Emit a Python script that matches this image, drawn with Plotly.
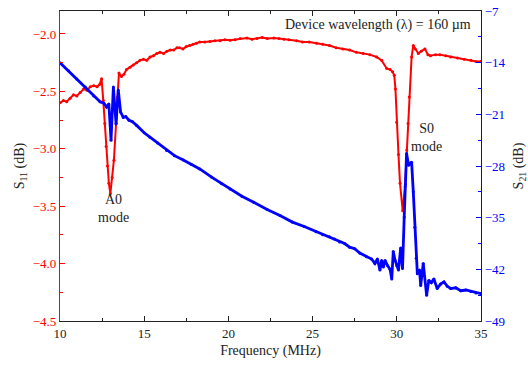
import plotly.graph_objects as go

# Reflection (S11) spectrum
freq_s11 = [10.0, 10.2, 10.4, 10.6, 10.8, 11.0, 11.2, 11.4, 11.6, 11.8, 12.0, 12.2, 12.35, 12.47,
            12.57, 12.66, 12.74, 12.82, 12.90, 12.99, 13.1, 13.2, 13.33, 13.42, 13.5,
            13.65, 13.8, 13.95, 14.16, 14.35, 14.55, 14.75, 14.95, 15.15, 15.35, 15.55, 15.75,
            15.94, 16.15, 16.35, 16.55, 16.75, 16.95, 17.1, 17.3, 17.5, 17.7, 17.9, 18.1, 18.3,
            18.6, 18.9, 19.2, 19.5, 19.8, 20.1, 20.4, 20.7, 21.1, 21.4, 21.7, 22.0, 22.3, 22.7,
            23.0, 23.3, 23.6, 24.05, 24.4, 24.8, 25.24, 25.6, 26.0, 26.4, 26.8, 27.2, 27.6,
            28.0, 28.4, 28.8, 29.1, 29.4, 29.6, 29.75, 29.85, 29.92, 29.99, 30.1, 30.19,
            30.35, 30.49, 30.59, 30.67, 30.74, 30.88, 30.98, 31.1, 31.28, 31.45, 31.67, 31.85,
            32.0, 32.3, 32.56, 32.9, 33.2, 33.6, 34.0, 34.4, 34.7, 35.0]
s11 = [-2.60, -2.58, -2.59, -2.56, -2.53, -2.54, -2.51, -2.48, -2.49, -2.46, -2.45, -2.46, -2.44, -2.39,
       -2.58, -2.78, -2.98, -3.15, -3.30, -3.39, -3.25, -3.10, -2.78, -2.55, -2.34,
       -2.37, -2.35, -2.31, -2.29, -2.27, -2.25, -2.23, -2.22, -2.23, -2.20, -2.19, -2.17,
       -2.16, -2.17, -2.15, -2.14, -2.14, -2.12, -2.12, -2.13, -2.11, -2.10, -2.09, -2.08, -2.07,
       -2.07, -2.065, -2.06, -2.06, -2.05, -2.055, -2.05, -2.04, -2.035, -2.045, -2.04, -2.03, -2.04, -2.035,
       -2.04, -2.045, -2.05, -2.06, -2.07, -2.07, -2.08, -2.09, -2.10, -2.12, -2.13, -2.14, -2.16,
       -2.17, -2.18, -2.20, -2.23, -2.30, -2.31, -2.33, -2.36, -2.48, -2.77, -3.05, -3.30,
       -3.54, -3.33, -3.01, -2.78, -2.55, -2.20, -2.10, -2.13, -2.17, -2.15, -2.13, -2.18,
       -2.19, -2.18, -2.18, -2.19, -2.20, -2.21, -2.22, -2.23, -2.24, -2.24]

# Transmission (S21) spectrum
freq_s21 = [10.0, 10.5, 11.0, 11.5, 12.0, 12.38, 12.6, 12.77, 12.9, 13.03, 13.17, 13.33, 13.46,
            13.6, 13.76, 13.9, 14.1, 14.3, 14.55, 15.0, 15.34, 15.8, 16.33, 16.8, 17.32, 17.8,
            18.3, 19.0, 19.6, 20.1, 20.8, 21.5, 22.3, 23.06, 23.8, 24.5, 25.2, 25.6, 26.0, 26.3,
            26.6, 26.9, 27.2, 27.5, 27.8, 28.2, 28.5, 28.7, 28.85, 29.0, 29.1, 29.2, 29.3, 29.45,
            29.6, 29.7, 29.79, 29.9, 30.0, 30.1, 30.23, 30.34, 30.44, 30.51, 30.58, 30.7, 30.8,
            30.88, 30.98, 31.07, 31.15, 31.22, 31.35, 31.42, 31.57, 31.77, 31.9, 32.05, 32.2,
            32.4, 32.6, 32.8, 33.0, 33.2, 33.5, 33.8, 34.1, 34.4, 34.7, 35.0]
s21 = [-14.0, -15.1, -16.2, -17.3, -18.5, -19.3, -19.5, -20.0, -19.6, -24.5, -17.3, -22.3, -17.7,
       -20.7, -21.4, -21.3, -21.8, -22.0, -22.5, -23.5, -24.1, -24.9, -25.9, -26.6, -27.2, -27.8,
       -28.4, -29.5, -30.4, -31.1, -32.1, -32.9, -33.9, -34.7, -35.6, -36.2, -36.9, -37.3, -37.6,
       -37.9, -38.3, -38.5, -39.0, -39.2, -39.8, -40.3, -40.6, -41.2, -40.6, -42.1, -40.8, -41.7,
       -40.8, -41.5, -42.0, -43.3, -39.6, -40.8, -41.5, -42.1, -39.1, -41.9, -34.9, -30.5, -26.3,
       -27.9, -27.6, -27.5, -31.5, -36.3, -40.5, -42.6, -42.1, -44.2, -41.2, -45.5, -43.5,
       -43.8, -43.3, -44.6, -44.0, -43.7, -44.3, -44.6, -44.5, -44.9, -44.8, -45.0, -45.2, -45.3]

x_ticks = [10, 15, 20, 25, 30, 35]
s11_ticks = [-4.5, -4.0, -3.5, -3.0, -2.5, -2.0]
s21_ticks = [-49, -42, -35, -28, -21, -14, -7]

RED = "#ff0000"
BLUE = "#0000ff"
INK = "#222222"
FONT = "Liberation Serif, Times New Roman, Times, serif"

fig = go.Figure()
fig.add_trace(go.Scatter(
    x=freq_s11, y=s11, mode="lines+markers",
    line=dict(color=RED, width=2), marker=dict(color=RED, size=3),
    yaxis="y", showlegend=False))
fig.add_trace(go.Scatter(
    x=freq_s21, y=s21, mode="lines+markers",
    line=dict(color=BLUE, width=2.8), marker=dict(color=BLUE, size=3),
    yaxis="y2", showlegend=False))

fig.update_layout(
    width=528, height=367,
    margin=dict(l=60, r=47, t=11, b=46),
    paper_bgcolor="white", plot_bgcolor="white",
    font=dict(family=FONT, size=13, color=INK),
    xaxis=dict(
        range=[10, 35], tickvals=x_ticks, ticks="inside", ticklen=5, tickcolor=INK,
        showline=True, linecolor=INK, linewidth=1.2, mirror="ticks",
        showgrid=False, zeroline=False, automargin=False,
        minor=dict(ticks="inside", ticklen=3, dtick=2.5, tick0=10, tickcolor=INK, showgrid=False),
        tickfont=dict(family=FONT, size=13, color=INK),
        title=dict(text="Frequency (MHz)", font=dict(family=FONT, size=14, color=INK), standoff=5),
    ),
    yaxis=dict(
        range=[-4.5, -1.8], tickvals=s11_ticks, tickformat=".1f",
        ticks="inside", ticklen=5, tickcolor=RED,
        showline=True, linecolor=RED, linewidth=1.2,
        showgrid=False, zeroline=False, automargin=False,
        minor=dict(ticks="inside", ticklen=3, dtick=0.25, tick0=-4.5, tickcolor=RED, showgrid=False),
        tickfont=dict(family=FONT, size=13, color=RED),
        title=dict(text="S<sub>11</sub> (dB)", font=dict(family=FONT, size=14, color=INK), standoff=4),
    ),
    yaxis2=dict(
        range=[-49, -7], tickvals=s21_ticks, overlaying="y", side="right",
        ticks="inside", ticklen=5, tickcolor=BLUE,
        showline=True, linecolor=BLUE, linewidth=1.2,
        showgrid=False, zeroline=False, automargin=False,
        minor=dict(ticks="inside", ticklen=3, dtick=3.5, tick0=-49, tickcolor=BLUE, showgrid=False),
        tickfont=dict(family=FONT, size=13, color=BLUE),
        title=dict(text="S<sub>21</sub> (dB)", font=dict(family=FONT, size=14, color=INK), standoff=10),
    ),
    annotations=[
        dict(text="Device wavelength (λ) = 160 µm", xref="paper", yref="paper",
             x=0.98, y=0.955, xanchor="right", yanchor="middle", showarrow=False,
             font=dict(family=FONT, size=14, color=INK)),
        dict(text="A0<br>mode", xref="paper", yref="paper",
             x=(113 - 60) / 421, y=(321 - 208) / 310, xanchor="center", yanchor="middle",
             showarrow=False, font=dict(family=FONT, size=14, color=INK)),
        dict(text="S0<br>mode", xref="paper", yref="paper",
             x=(426 - 60) / 421, y=(321 - 137) / 310, xanchor="center", yanchor="middle",
             showarrow=False, font=dict(family=FONT, size=14, color=INK)),
    ],
)

fig.write_html("out.html")
